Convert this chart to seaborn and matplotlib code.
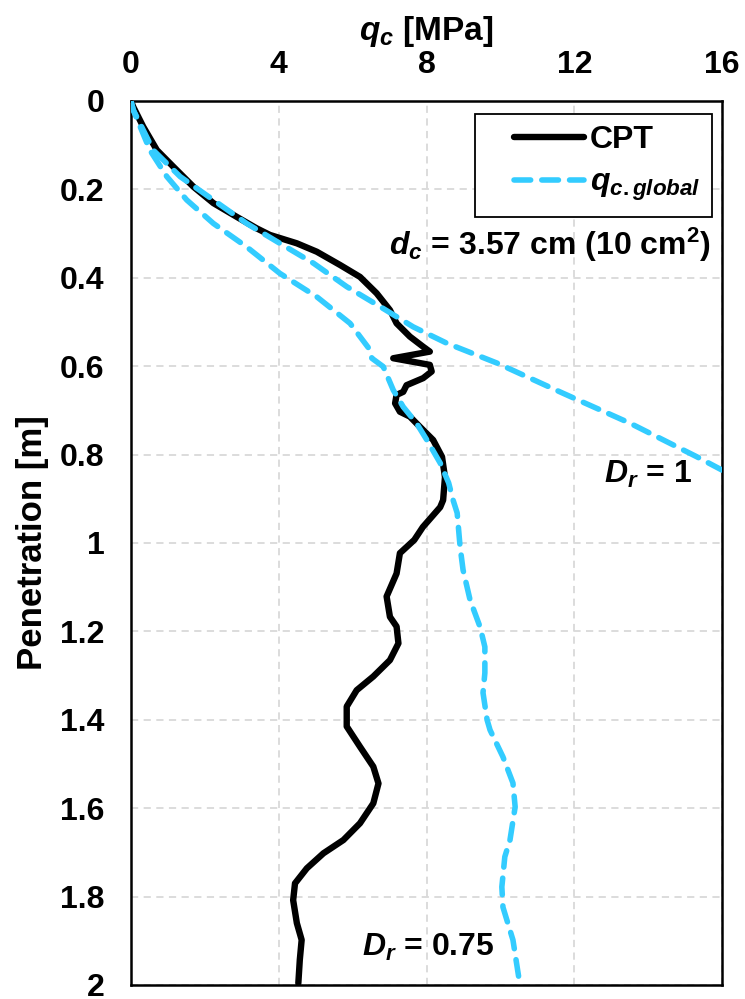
import numpy as np
import pandas as pd
import matplotlib
matplotlib.use("Agg")
import matplotlib.pyplot as plt
from matplotlib.patches import Rectangle
import seaborn as sns

# Cone penetration test profile (depth in m, cone resistance in MPa)
cpt_depth = [0.0, 0.013, 0.058, 0.111, 0.149, 0.194, 0.231, 0.262, 0.288, 0.303,
             0.322, 0.341, 0.371, 0.398, 0.435, 0.473, 0.503, 0.533, 0.556, 0.567,
             0.582, 0.597, 0.612, 0.627, 0.643, 0.658, 0.665, 0.684, 0.703, 0.714,
             0.737, 0.767, 0.805, 0.851, 0.903, 0.919, 0.964, 0.993, 1.023, 1.069,
             1.121, 1.167, 1.189, 1.227, 1.265, 1.302, 1.333, 1.370, 1.415, 1.461,
             1.506, 1.544, 1.589, 1.634, 1.672, 1.702, 1.736, 1.770, 1.808, 1.860,
             1.898, 1.943, 1.996]
cpt_qc = [0.0, 0.06, 0.33, 0.70, 1.15, 1.69, 2.23, 2.86, 3.40, 3.76,
          4.49, 5.03, 5.66, 6.20, 6.65, 7.01, 7.19, 7.55, 7.91, 8.09,
          7.10, 8.09, 8.14, 7.91, 7.46, 7.37, 7.19, 7.15, 7.28, 7.55,
          7.82, 8.18, 8.42, 8.50, 8.45, 8.37, 7.90, 7.67, 7.28, 7.19,
          6.92, 7.01, 7.19, 7.24, 7.01, 6.56, 6.11, 5.84, 5.84, 6.20,
          6.56, 6.70, 6.56, 6.20, 5.75, 5.21, 4.76, 4.44, 4.39, 4.49,
          4.62, 4.57, 4.53]

# Global cone resistance, dense sand (Dr = 1)
dr1_depth = [0.0, 0.020, 0.111, 0.171, 0.224, 0.277, 0.322, 0.367, 0.420, 0.465,
             0.511, 0.548, 0.593, 0.661, 0.729, 0.805, 0.835]
dr1_qc = [0.0, 0.06, 0.60, 1.33, 2.23, 3.13, 4.03, 4.94, 5.84, 6.74,
          7.64, 8.55, 9.91, 11.69, 13.51, 15.32, 16.0]

# Global cone resistance, medium dense sand (Dr = 0.75)
dr075_depth = [0.0, 0.020, 0.111, 0.171, 0.224, 0.277, 0.330, 0.390, 0.443, 0.503,
               0.563, 0.582, 0.601, 0.654, 0.692, 0.729, 0.767, 0.819, 0.864, 0.903,
               0.932, 1.009, 1.061, 1.129, 1.190, 1.235, 1.294, 1.339, 1.400, 1.423,
               1.484, 1.543, 1.597, 1.672, 1.710, 1.778, 1.824, 1.898, 2.000]
dr075_qc = [0.0, 0.06, 0.51, 0.97, 1.51, 2.23, 3.13, 4.03, 5.03, 5.93,
            6.47, 6.52, 6.83, 7.10, 7.37, 7.73, 8.01, 8.37, 8.60, 8.72,
            8.83, 8.91, 8.99, 9.18, 9.45, 9.58, 9.58, 9.53, 9.64, 9.72,
            10.07, 10.34, 10.40, 10.26, 10.12, 10.04, 10.07, 10.34, 10.53]

x_ticks = [0, 4, 8, 12, 16]
y_ticks = [0, 0.2, 0.4, 0.6, 0.8, 1, 1.2, 1.4, 1.6, 1.8, 2]
y_tick_labels = ["0", "0.2", "0.4", "0.6", "0.8", "1", "1.2", "1.4", "1.6", "1.8", "2"]

sns.set_theme(style="white")
plt.rcParams["font.family"] = ["Liberation Sans", "DejaVu Sans"]
plt.rcParams["font.weight"] = "bold"
plt.rcParams["text.color"] = "black"
plt.rcParams["axes.labelcolor"] = "black"
plt.rcParams["xtick.color"] = "black"
plt.rcParams["ytick.color"] = "black"
plt.rcParams["mathtext.fontset"] = "custom"
plt.rcParams["mathtext.it"] = "Liberation Sans:italic:bold"
plt.rcParams["mathtext.rm"] = "Liberation Sans:bold"
plt.rcParams["mathtext.bf"] = "Liberation Sans:bold"

BLUE = "#33CCFF"
FS = 23

fig = plt.figure(figsize=(7.45, 9.99), dpi=100)
ax = fig.add_axes([131 / 745, 1 - 985 / 999, (722 - 131) / 745, (985 - 101) / 999])

cpt = pd.DataFrame({"qc": cpt_qc, "depth": cpt_depth})
g1 = pd.DataFrame({"qc": dr1_qc, "depth": dr1_depth})
g2 = pd.DataFrame({"qc": dr075_qc, "depth": dr075_depth})

sns.lineplot(data=g1, x="qc", y="depth", sort=False, estimator=None, ax=ax,
             color=BLUE, lw=4.0, label="$q_{c.global}$", zorder=3)
sns.lineplot(data=g2, x="qc", y="depth", sort=False, estimator=None, ax=ax,
             color=BLUE, lw=4.0, label="_nolegend_", zorder=3)
sns.lineplot(data=cpt, x="qc", y="depth", sort=False, estimator=None, ax=ax,
             color="black", lw=4.6, label="CPT", zorder=2)

for ln in ax.lines:
    if matplotlib.colors.to_hex(ln.get_color()).lower() == BLUE.lower():
        ln.set_dashes((3.0, 2.0))
        ln.set_dash_capstyle("round")
    else:
        ln.set_solid_capstyle("round")
        ln.set_solid_joinstyle("round")

ax.set_xlim(0, 16)
ax.set_ylim(2, 0)
ax.xaxis.tick_top()
ax.xaxis.set_label_position("top")
ax.set_xticks(x_ticks)
ax.set_xticklabels([str(t) for t in x_ticks])
ax.set_yticks(y_ticks)
ax.set_yticklabels(y_tick_labels)
ax.tick_params(axis="both", length=0, labelsize=FS, colors="black")
ax.tick_params(axis="y", pad=19)
ax.tick_params(axis="x", pad=15)
for lab in ax.get_xticklabels() + ax.get_yticklabels():
    lab.set_fontweight("bold")

ax.grid(True, color="#D9D9D9", linestyle=(0, (4, 3)), linewidth=1.3)
for s in ax.spines.values():
    s.set_visible(True)
    s.set_color("black")
    s.set_linewidth(1.8)

ax.set_xlabel("$q_c$ [MPa]", fontsize=FS + 1, fontweight="bold", labelpad=7,
              color="black")
ax.set_ylabel("Penetration [m]", fontsize=FS + 2, fontweight="bold", labelpad=8,
              color="black")

# legend: CPT first, then global resistance; frame drawn as its own box
handles, labels = ax.get_legend_handles_labels()
order = [labels.index("CPT"), labels.index("$q_{c.global}$")]
leg = ax.legend([handles[i] for i in order], [labels[i] for i in order],
                loc="upper right", bbox_to_anchor=(0.983, 0.985), fontsize=FS,
                frameon=False, handlelength=2.2, handletextpad=0.2,
                borderpad=0.35, labelspacing=0.4, borderaxespad=0.0)
for t in leg.get_texts():
    t.set_fontweight("bold")
    t.set_color("black")
ax.add_patch(Rectangle((0.582, 0.8688), 0.401, 0.1165, transform=ax.transAxes,
                       facecolor="white", edgecolor="black", lw=1.3, zorder=4))
leg.set_zorder(5)

ax.text(15.7, 0.325, "$d_c$ = 3.57 cm (10 cm$^2$)", fontsize=FS, fontweight="bold",
        ha="right", va="center", color="black")
ax.text(15.2, 0.846, "$D_r$ = 1", fontsize=FS, fontweight="bold", ha="right",
        va="center", color="black")
ax.text(9.85, 1.914, "$D_r$ = 0.75", fontsize=FS, fontweight="bold", ha="right",
        va="center", color="black")

fig.savefig("out.png", dpi=100)
